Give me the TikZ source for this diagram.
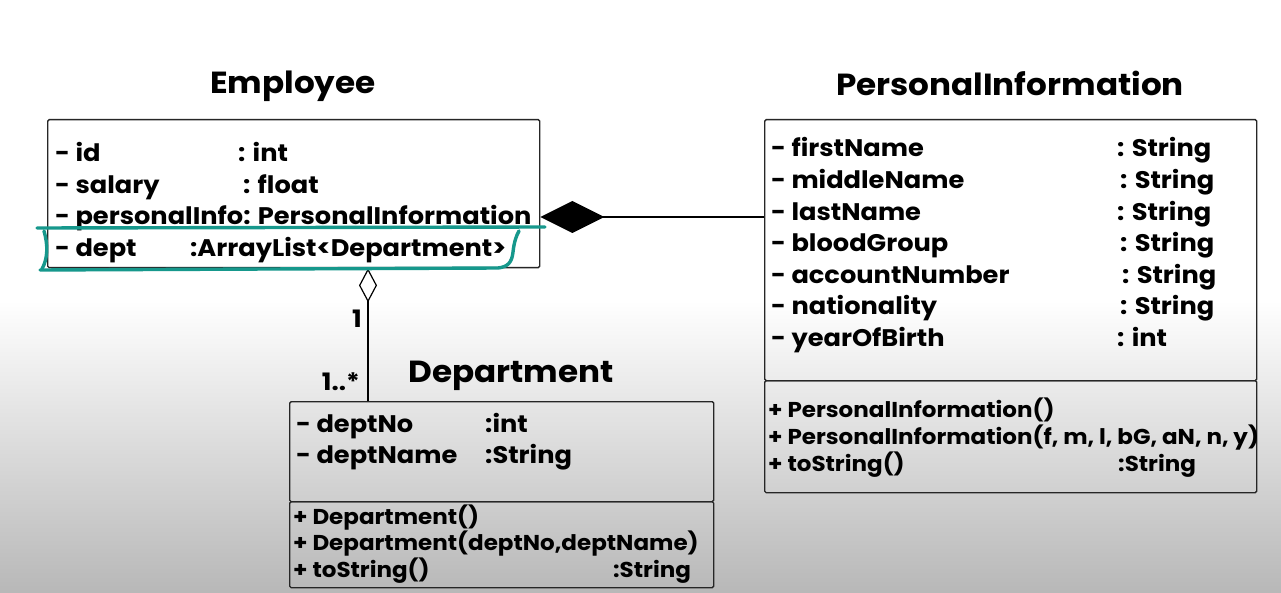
\documentclass[tikz,border=0pt]{standalone}
\usepackage{fontspec}
\setmainfont{Poppins}[FakeStretch=1.07]
\usetikzlibrary{arrows.meta}
\definecolor{marker}{RGB}{22,152,140}

\begin{document}
\begin{tikzpicture}[x=1pt, y=-1pt,
    every node/.style={inner sep=0pt, font=\bfseries\fontsize{24}{28}\selectfont},
    attr/.style={anchor=base west},
    op/.style={anchor=base west, font=\bfseries\fontsize{21.5}{25}\selectfont},
    title/.style={anchor=base, font=\bfseries\fontsize{30.5}{36}\selectfont},
    classbox/.style={draw=black!85, line width=1.4pt, rounded corners=1.5pt, anchor=north west},
    comp/.style={line width=1.4pt, -{Diamond[length=64pt, width=32pt]}},
    agg/.style={line width=1.2pt, -{Diamond[open, length=34pt, width=18pt, line width=1.2pt]}},
    highlight/.style={draw=marker, line width=3.4pt, line cap=round}]
    \useasboundingbox (0,0) rectangle (1281,593);
    \fill[white] (0,0) rectangle (1281,593);
    \shade[top color=white, bottom color=black!28] (0,300) rectangle (1281,593);

    \node[title] (tEmp) at (293,94) {Employee};
    \node[classbox, minimum width=492pt, minimum height=148pt] (emp) at (47,119) {};
    \node[attr] (eId) at (55,162) {- id};
    \node[attr] at (238,162) {: int};
    \node[attr] (eSal) at (55,194) {- salary};
    \node[attr] at (243,194) {: float};
    \node[attr] (ePI) at (55,225) {- personalInfo: PersonalInformation};
    \node[attr] (eDept) at (55,257) {- dept};
    \node[attr] at (190,257) {:ArrayList<Department>};

    \node[title] (tPI) at (1010,96) {PersonalInformation};
    \node[classbox, minimum width=492pt, minimum height=261pt] (pattr) at (764,119) {};
    \node[classbox, minimum width=492pt, minimum height=112pt] (pops) at (764,380) {};
    \foreach \n/\t/\x [count=\i from 0] in {firstName/String/1117, middleName/String/1120,
        lastName/String/1117, bloodGroup/String/1120, accountNumber/String/1122,
        nationality/String/1120, yearOfBirth/int/1117} {
        \node[attr] (p\n) at (771,157+31.6*\i) {- \n};
        \node[attr] at (\x,157+31.6*\i) {: \t};
    }
    \node[op] (pCtor) at (768,417) {+ PersonalInformation()};
    \node[op] (pCtorAll) at (768,444) {+ PersonalInformation(f, m, l, bG, aN, n, y)};
    \node[op] (pStr) at (768,471) {+ toString()};
    \node[op] at (1118,471) {:String};

    \node[title] (tDept) at (511,382) {Department};
    \node[classbox, minimum width=424pt, minimum height=100pt] (dattr) at (289,401) {};
    \node[classbox, minimum width=424pt, minimum height=86pt] (dops) at (289,501) {};
    \node[attr] (dNo) at (296,432) {- deptNo};
    \node[attr] at (485,432) {:int};
    \node[attr] (dName) at (296,463) {- deptName};
    \node[attr] at (485,463) {:String};
    \node[op] (dCtor) at (293,524) {+ Department()};
    \node[op] (dCtorAll) at (293,550) {+ Department(deptNo,deptName)};
    \node[op] (dStr) at (293,577) {+ toString()};
    \node[op] at (613,577) {:String};

    \coordinate (aggx) at (368,0);
    \draw[comp] (pattr.west |- 0,217) -- (emp.east |- 0,217);
    \draw[agg] (dattr.north -| aggx) -- (emp.south -| aggx);
    \node[anchor=base east] (mOne) at (362,327) {1};
    \node[anchor=base east] (mMany) at (360,390) {1..*};

    \draw[highlight] (37,228) -- (545,227);
    \draw[highlight] (44,231) .. controls (48,245) and (48,258) .. (42,269);
    \draw[highlight] (40,270) -- (498,268) .. controls (508,267) and (512,262) .. (513,252)
        .. controls (514,243) and (516,236) .. (519,231);
\end{tikzpicture}
\end{document}
